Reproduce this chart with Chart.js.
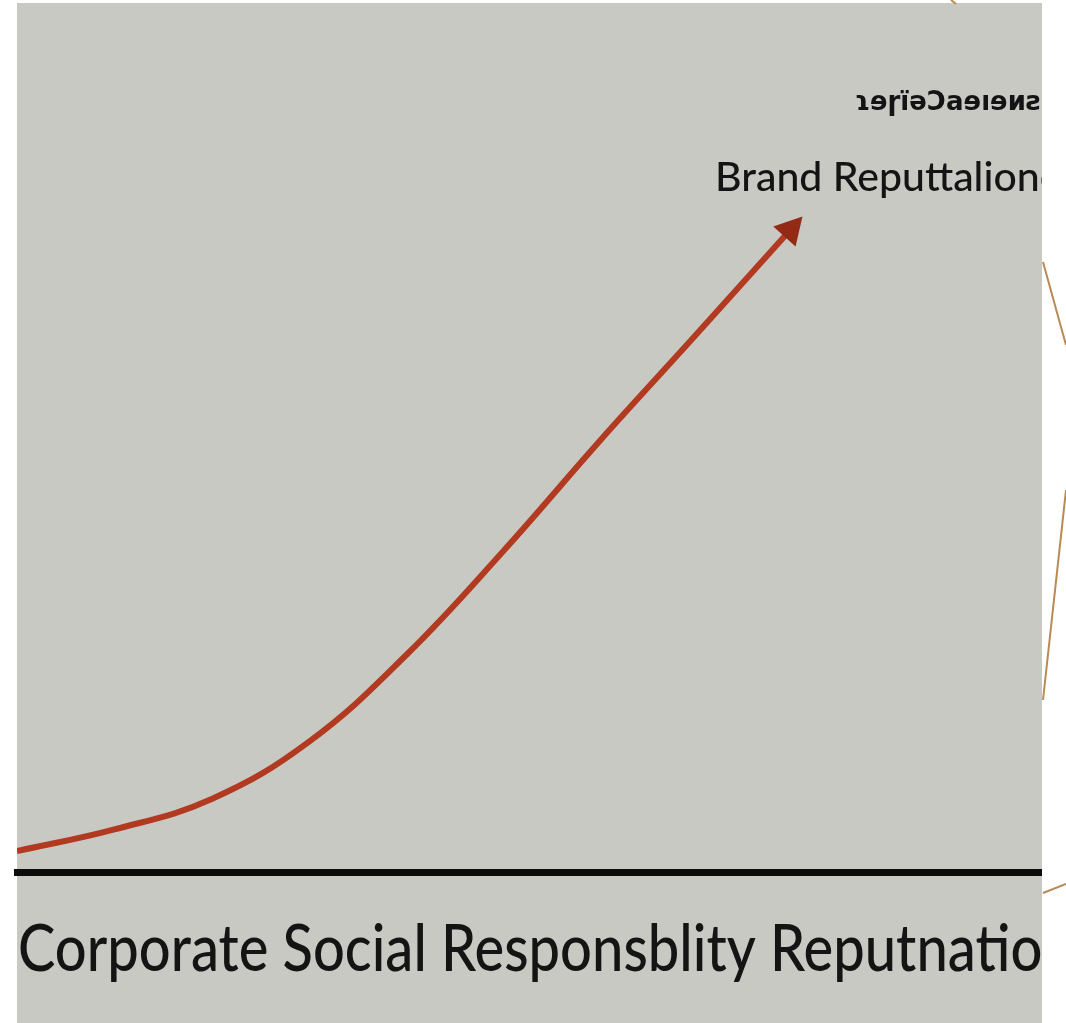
<!DOCTYPE html>
<html>
<head>
<meta charset="utf-8">
<script src="https://cdn.jsdelivr.net/npm/chart.js@4/dist/chart.umd.min.js"></script>
<style>
    html, body { margin: 0; padding: 0; background: #fff; }
    #wrap { width: 1066px; height: 1023px; }
</style>
</head>
<body>
<div id="wrap"><canvas id="chart"></canvas></div>
<script>
// curve (x: CSR reputation, y: brand reputation, 0..100)
const csrValues = [0, 9.5, 19, 28.5, 38, 47.5, 57, 66, 75]
const brandValues = [2.4, 4.9, 8.4, 15, 25, 37, 49.8, 61.5, 73.3]

const xTitle = 'Corporate Social Responsblity Reputnation'
const curveLabel = 'Brand Reputtalione'
const topLabel = 'ɿɘɼïəƆaɘıɘᴎƨ'

const paper = '#c9c9c4'
const curveColor = '#b23a20'
const headColor = '#922a16'
const trim = '#b98a55'

// paper sheet, white margin on the right, clipped labels, arrow head
const paperPlugin = {
    id: 'paper',
    beforeDraw(chart) {
        const { ctx, chartArea } = chart
        ctx.save()
        ctx.fillStyle = '#fff'
        ctx.fillRect(0, 0, chart.width, chart.height)
        ctx.fillStyle = paper
        ctx.fillRect(chartArea.left, chartArea.top, chartArea.right - chartArea.left, chart.height - chartArea.top)
        ctx.restore()
    },
    afterDatasetsDraw(chart) {
        const { ctx } = chart
        const pts = chart.getDatasetMeta(0).data
        const a = pts[pts.length - 2], b = pts[pts.length - 1]
        const ang = Math.atan2(b.y - a.y, b.x - a.x)
        const len = 25, half = 15
        ctx.save()
        ctx.translate(b.x, b.y)
        ctx.rotate(ang)
        ctx.fillStyle = headColor
        ctx.beginPath()
        ctx.moveTo(len, 0)
        ctx.lineTo(-2, -half)
        ctx.lineTo(-2, half)
        ctx.closePath()
        ctx.fill()
        ctx.restore()
    },
    afterDraw(chart) {
        const { ctx, chartArea } = chart
        const x = chart.scales.x
        ctx.save()
        ctx.beginPath()
        ctx.rect(chartArea.left, 0, chartArea.right - chartArea.left, chart.height)
        ctx.clip()
        ctx.fillStyle = '#141414'
        ctx.textBaseline = 'alphabetic'
        ctx.font = '500 41px Lato'
        ctx.fillText(curveLabel, x.getPixelForValue(68.1), 191)
        ctx.font = 'bold 26px "DejaVu Sans"'
        ctx.fillText(topLabel, x.getPixelForValue(81.7), 110)
        // axis title: a touch condensed, cut off by the sheet edge
        ctx.translate(chartArea.left + 1, 971)
        ctx.scale(0.85, 1)
        ctx.font = '500 66px Lato'
        ctx.fillText(xTitle, 0, 0)
        ctx.restore()

        // white margin and the thin trim lines on it
        ctx.save()
        ctx.fillStyle = '#fff'
        ctx.fillRect(chartArea.right, 0, chart.width - chartArea.right, chart.height)
        ctx.strokeStyle = trim
        ctx.lineWidth = 2
        ctx.beginPath()
        ctx.moveTo(chartArea.right + 1, 262)
        ctx.lineTo(chart.width, 345)
        ctx.moveTo(chart.width, 490)
        ctx.lineTo(chartArea.right + 1, 700)
        ctx.moveTo(chartArea.right + 1, 893)
        ctx.lineTo(chart.width, 884)
        ctx.moveTo(951, 0)
        ctx.lineTo(956, 4)
        ctx.stroke()
        ctx.restore()
    },
}

new Chart(document.getElementById('chart'), {
    type: 'line',
    data: {
        datasets: [{
            data: csrValues.map((v, i) => ({ x: v, y: brandValues[i] })),
            borderColor: curveColor,
            borderWidth: 6,
            pointRadius: 0,
            tension: 0.4,
            fill: false,
        }],
    },
    options: {
        responsive: true,
        maintainAspectRatio: false,
        animation: false,
        layout: { padding: { left: 17, right: 24, top: 3, bottom: 151 } },
        plugins: { legend: { display: false }, tooltip: { enabled: false } },
        scales: {
            x: {
                type: 'linear',
                min: 0,
                max: 100,
                grid: { display: false, drawTicks: false },
                ticks: { display: false },
                border: { display: true, color: '#0c0c0c', width: 7 },
            },
            y: {
                display: false,
                min: 0,
                max: 100,
            },
        },
    },
    plugins: [paperPlugin],
})
</script>
</body>
</html>
